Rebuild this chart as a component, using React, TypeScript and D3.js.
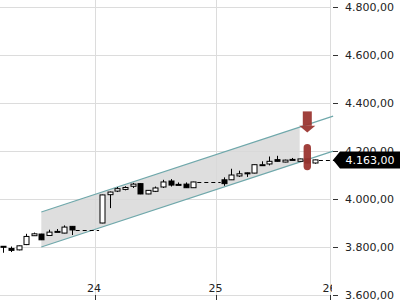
import React from "react";
import * as d3 from "d3";

// slot = 90-minute bar index; o/h/l/c = price
const slots = [0,1,2,3,4,5,6,7,8,9, 13,14,15,16,17,18,19,20,21,22,23,24,25, 29,30,31,32,33,34,35,36,37,38,39,40,41];
const opens  = [3803,3794,3788,3810,3847,3854,3848,3864,3858,3886, 3900,4018,4033,4040,4053,4064,4021,4032,4050,4075,4061,4062,4047, 4080,4080,4096,4109,4108,4142,4146,4164,4154,4165,4157,4167,4150];
const highs  = [3804,3802,3806,3855,3860,3855,3872,3875,3890,3887, 4018,4031,4050,4053,4067,4065,4037,4052,4080,4083,4069,4069,4072, 4090,4126,4118,4110,4144,4157,4177,4180,4164,4171,4168,4168,4164];
const lows   = [3776,3779,3786,3808,3846,3829,3847,3864,3857,3850, 3899,3962,4029,4036,4046,4020,4020,4029,4046,4052,4059,4046,4046, 4055,4079,4092,4092,4107,4142,4140,4156,4153,4162,4156,4149,4147];
const closes = [3801,3786,3805,3844,3855,3830,3862,3865,3883,3871, 4017,4029,4043,4048,4062,4021,4036,4046,4071,4058,4060,4047,4071, 4064,4100,4105,4107,4143,4143,4157,4157,4162,4163,4167,4150,4163];

const dayLabels = ["24", "25", "26"];
const daySlots = [12, 28, 43];
const yTicks = [3600, 3800, 4000, 4200, 4400, 4600, 4800];

// trend channel
const channelStartSlot = 5;
const channelShadeEndSlot = 39;
const channelLineEndSlot = 43.4;
const channelUpperStart = 3946;
const channelLowerStart = 3800;
const channelSlope = 10.4;

// signal markers
const arrowSlot = 40;
const arrowTop = 4365;
const arrowBase = 4305;
const arrowTip = 4277;
const pillHigh = 4229;
const pillLow = 4120;
const lastPrice = 4163;

const W = 400, H = 300;
const fmt = d3.formatLocale({ decimal: ",", thousands: ".", grouping: [3], currency: ["", ""] }).format(",.2f");

export default function App() {
  const x = d3.scaleLinear().domain([0, 43]).range([3.3, 330.1]);
  const y = d3.scaleLinear().domain([3600, 4800]).range([295, 7]);
  const plotRight = 331;
  const crisp = (v: number) => Math.round(v) + 0.5;
  const bw = 5;

  const candles = slots.map((s, i) => ({ s, o: opens[i], h: highs[i], l: lows[i], c: closes[i] }));

  const gaps: { x1: number; x2: number; v: number }[] = [];
  for (let i = 1; i < candles.length; i++) {
    if (candles[i].s - candles[i - 1].s > 1) {
      gaps.push({ x1: x(candles[i - 1].s) + 4, x2: x(candles[i].s) - 3, v: candles[i - 1].c });
    }
  }
  const last = candles[candles.length - 1];

  const up = (s: number) => channelUpperStart + channelSlope * (s - channelStartSlot);
  const lo = (s: number) => channelLowerStart + channelSlope * (s - channelStartSlot);
  const area = d3.area<number>().x(s => x(s)).y0(s => y(lo(s))).y1(s => y(up(s)));
  const ax = x(arrowSlot);
  const tagY = y(lastPrice);

  return (
    <svg width={W} height={H} style={{ position: "fixed", left: 0, top: 0, background: "#fff" }}
      fontFamily="DejaVu Sans" fontSize={11}>
      <defs>
        <clipPath id="xclip"><rect x={0} y={0} width={332} height={H} /></clipPath>
      </defs>
      <rect x={0} y={0} width={W} height={H} fill="#fff" />
      {/* grid */}
      {yTicks.map(t => (
        <line key={"g" + t} x1={0} x2={plotRight} y1={crisp(y(t))} y2={crisp(y(t))} stroke="#dcdcdc" />
      ))}
      {daySlots.map((s, i) => (
        <line key={"v" + i} x1={crisp(x(s))} x2={crisp(x(s))} y1={0} y2={H} stroke="#dcdcdc" />
      ))}
      {/* channel */}
      <path d={area([channelStartSlot, channelShadeEndSlot]) || ""} fill="#d8d8d8" fillOpacity={0.85} />
      <line x1={x(channelStartSlot)} x2={x(channelLineEndSlot)} y1={y(up(channelStartSlot))} y2={y(up(channelLineEndSlot))} stroke="#6fa8ab" strokeWidth={1.2} />
      <line x1={x(channelStartSlot)} x2={x(channelLineEndSlot)} y1={y(lo(channelStartSlot))} y2={y(lo(channelLineEndSlot))} stroke="#6fa8ab" strokeWidth={1.2} />
      {/* gap dashes */}
      {gaps.map((g, i) => (
        <line key={"d" + i} x1={g.x1} x2={g.x2} y1={crisp(y(g.v))} y2={crisp(y(g.v))} stroke="#000" strokeDasharray="4,3" />
      ))}
      <line x1={x(last.s) + 4} x2={334} y1={crisp(tagY)} y2={crisp(tagY)} stroke="#000" strokeDasharray="4,3" />
      {/* candles */}
      {candles.map((d, i) => {
        const cx = crisp(x(d.s));
        const top = y(Math.max(d.o, d.c));
        const bot = y(Math.min(d.o, d.c));
        const bull = d.c >= d.o;
        const bh = Math.max(1, bot - top);
        return (
          <g key={"c" + i}>
            <line x1={cx} x2={cx} y1={y(d.h)} y2={y(d.l)} stroke="#000" />
            <rect x={cx - bw / 2} y={top} width={bw} height={bh} fill={bull ? "#fff" : "#000"} stroke="#000" strokeWidth={1} />
          </g>
        );
      })}
      {/* markers */}
      <rect x={ax - 4.5} y={y(arrowTop)} width={9} height={y(arrowBase) - y(arrowTop)} fill="#9b3632" fillOpacity={0.95} />
      <path d={`M${ax - 8},${y(arrowBase)} L${ax + 8},${y(arrowBase)} L${ax},${y(arrowTip)} Z`} fill="#9b3632" fillOpacity={0.95} />
      <rect x={ax - 3.7} y={y(pillHigh)} width={7.4} height={y(pillLow) - y(pillHigh)} rx={3.7} fill="#9b3632" fillOpacity={0.95} />
      {/* y axis */}
      {yTicks.map(t => (
        <g key={"y" + t}>
          <line x1={333} x2={338} y1={crisp(y(t))} y2={crisp(y(t))} stroke="#333" />
          <text x={345} y={y(t)} dy="0.35em" fill="#222">{fmt(t)}</text>
        </g>
      ))}
      {/* x axis */}
      <g clipPath="url(#xclip)">
        {daySlots.map((s, i) => (
          <g key={"x" + i}>
            <line x1={crisp(x(s))} x2={crisp(x(s))} y1={295} y2={300} stroke="#333" />
            <text x={x(s) - 0.5} y={291.5} textAnchor="middle" fill="#222">{dayLabels[i]}</text>
          </g>
        ))}
      </g>
      {/* price tag */}
      <path d={`M333,${tagY} L340,${tagY - 8.5} L${W},${tagY - 8.5} L${W},${tagY + 8.5} L340,${tagY + 8.5} Z`} fill="#000" />
      <text x={345.5} y={tagY} dy="0.36em" fill="#fff">{fmt(lastPrice)}</text>
    </svg>
  );
}
